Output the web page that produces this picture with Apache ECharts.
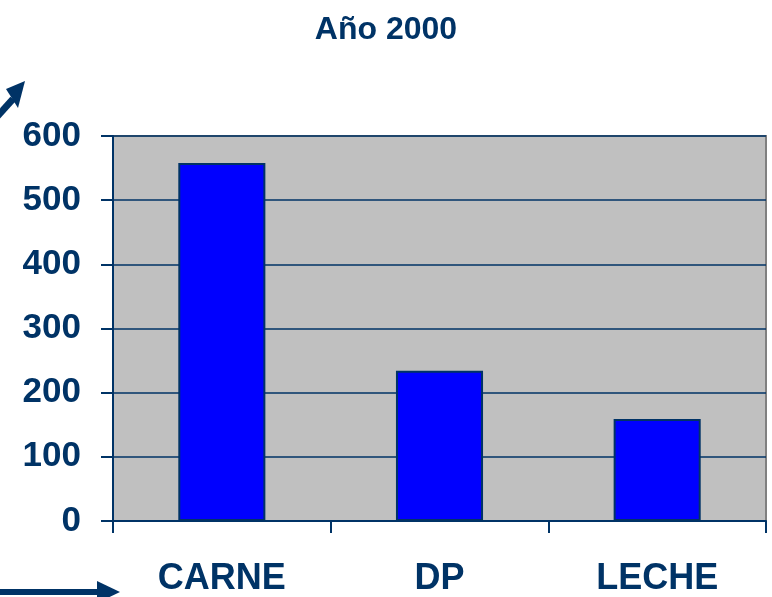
<!DOCTYPE html>
<html>
<head>
<meta charset="utf-8">
<script src="https://cdn.jsdelivr.net/npm/echarts@6/dist/echarts.min.js"></script>
<style>
html,body{margin:0;padding:0;background:#fff;}
#chart{width:772px;height:597px;}
</style>
</head>
<body>
<div id="chart"></div>
<script>
// datos
var categorias = ['CARNE', 'DP', 'LECHE'];
var valores = [558, 234, 159];
var ticksY = [0, 100, 200, 300, 400, 500, 600];

var navy = '#003366';
var fuente = 'Liberation Sans, Arial, sans-serif';
var myChart = echarts.init(document.getElementById('chart'));

var option = {
    backgroundColor: '#ffffff',
    textStyle: { fontFamily: fuente },
    title: {
        text: 'Año 2000',
        left: 'center',
        top: 9,
        textStyle: { color: navy, fontSize: 32, fontWeight: 'bold', fontFamily: fuente }
    },
    grid: {
        show: true,
        left: 113,
        right: 6,
        top: 136,
        bottom: 76,
        backgroundColor: '#C0C0C0',
        borderColor: '#808080',
        borderWidth: 2
    },
    xAxis: {
        type: 'category',
        data: categorias,
        boundaryGap: true,
        axisLine: { show: true, lineStyle: { color: navy, width: 2 } },
        axisTick: { show: true, length: 12, alignWithLabel: false, lineStyle: { color: navy, width: 2 } },
        axisLabel: { color: navy, fontSize: 36, fontWeight: 'bold', margin: 40 }
    },
    yAxis: {
        type: 'value',
        min: ticksY[0],
        max: ticksY[ticksY.length - 1],
        interval: 100,
        axisLine: { show: true, lineStyle: { color: navy, width: 2 } },
        axisTick: { show: true, length: 12, lineStyle: { color: navy, width: 2 } },
        axisLabel: { color: navy, fontSize: 35, fontWeight: 'bold', margin: 32 },
        splitLine: { show: true, lineStyle: { color: navy, width: 1.5 } }
    },
    series: [{
        type: 'bar',
        data: valores,
        barWidth: '40%',
        itemStyle: { color: '#0000FF', borderColor: navy, borderWidth: 2 }
    }],
    graphic: [
        // flecha diagonal arriba a la izquierda
        { type: 'line', shape: { x1: -6, y1: 120, x2: 13, y2: 99 }, style: { stroke: navy, lineWidth: 7 } },
        { type: 'polygon', shape: { points: [[25, 81], [6, 89], [18, 108]] }, style: { fill: navy } },
        // flecha horizontal abajo a la izquierda
        { type: 'line', shape: { x1: 0, y1: 592, x2: 100, y2: 592 }, style: { stroke: navy, lineWidth: 6 } },
        { type: 'polygon', shape: { points: [[120, 592], [97, 581], [97, 603]] }, style: { fill: navy } }
    ]
};

window.onresize = myChart.resize;
myChart.setOption(option);
</script>
</body>
</html>
